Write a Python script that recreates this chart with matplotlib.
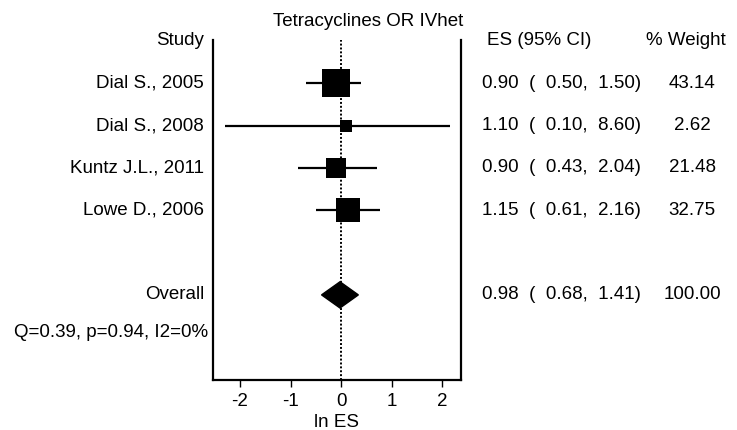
import numpy as np
import matplotlib.pyplot as plt
from matplotlib.patches import Polygon
from matplotlib.transforms import blended_transform_factory

plt.rcParams['font.family'] = ['Liberation Sans', 'DejaVu Sans']

studies = ["Dial S., 2005", "Dial S., 2008", "Kuntz J.L., 2011", "Lowe D., 2006"]
es = [0.90, 1.10, 0.90, 1.15]
ci_low = [0.50, 0.10, 0.43, 0.61]
ci_high = [1.50, 8.60, 2.04, 2.16]
weights = [43.14, 2.62, 21.48, 32.75]

overall_es = 0.98
overall_low = 0.68
overall_high = 1.41
overall_weight = 100.00
heterogeneity = "Q=0.39, p=0.94, I2=0%"

W, H = 737, 430
fig = plt.figure(figsize=(W / 100, H / 100), dpi=100)
ax = fig.add_axes([213 / W, 1 - 380 / H, (461 - 213) / W, (380 - 40) / H])

fs = 13.5
rows = np.arange(1, len(studies) + 1)
overall_row = 6

# confidence intervals and weighted squares
for r, e, lo, hi, w in zip(rows, es, ci_low, ci_high, weights):
    ax.plot([np.log(lo), np.log(hi)], [r, r], color='black', lw=1.6, solid_capstyle='butt', zorder=2)
    ax.scatter(np.log(e), r, marker='s', s=max(9.4 * w, 75), color='black', linewidths=0, zorder=3)

# pooled estimate diamond
h = 0.31
dx = [np.log(overall_low), np.log(overall_es), np.log(overall_high), np.log(overall_es)]
dy = [overall_row, overall_row - h, overall_row, overall_row + h]
ax.add_patch(Polygon(list(zip(dx, dy)), closed=True, color='black', zorder=3))

ax.axvline(0, color='black', lw=1.4, ls=(0, (1, 1)), zorder=1)

ax.set_xlim(-2.535, 2.376)
ax.set_ylim(8.01, -0.02)
ax.set_xticks([-2, -1, 0, 1, 2])
ax.set_xticklabels(['-2', '-1', '0', '1', '2'], fontsize=fs)
ax.set_yticks([])
ax.tick_params(axis='x', length=5, width=1, pad=4)
ax.set_xlabel('ln ES', fontsize=fs, labelpad=3)
for s in ['left', 'right', 'bottom']:
    ax.spines[s].set_linewidth(1.6)
ax.spines['top'].set_visible(False)

tr = blended_transform_factory(fig.transFigure, ax.transData)
label_x = 204 / W
ci_x = 482 / W
wt_x = 692 / W

fig.text(368 / W, 1 - 21 / H, "Tetracyclines OR IVhet", fontsize=fs, ha='center', va='center')
ax.text(label_x, 0, "Study", transform=tr, fontsize=fs, ha='right', va='center')
ax.text(487 / W, 0, "ES (95% CI)", transform=tr, fontsize=fs, ha='left', va='center')
ax.text(686 / W, 0, "% Weight", transform=tr, fontsize=fs, ha='center', va='center')

for r, name, e, lo, hi, w in zip(rows, studies, es, ci_low, ci_high, weights):
    ax.text(label_x, r, name, transform=tr, fontsize=fs, ha='right', va='center')
    ax.text(ci_x, r, f"{e:.2f}  (  {lo:.2f},  {hi:.2f})", transform=tr, fontsize=fs, ha='left', va='center')
    ax.text(wt_x, r, f"{w:.2f}", transform=tr, fontsize=fs, ha='center', va='center')

ax.text(label_x, overall_row, "Overall", transform=tr, fontsize=fs, ha='right', va='center')
ax.text(ci_x, overall_row, f"{overall_es:.2f}  (  {overall_low:.2f},  {overall_high:.2f})",
        transform=tr, fontsize=fs, ha='left', va='center')
ax.text(wt_x, overall_row, f"{overall_weight:.2f}", transform=tr, fontsize=fs, ha='center', va='center')
ax.text(208 / W, 6.88, heterogeneity, transform=tr, fontsize=fs, ha='right', va='center')

fig.savefig('out.png', dpi=100)
